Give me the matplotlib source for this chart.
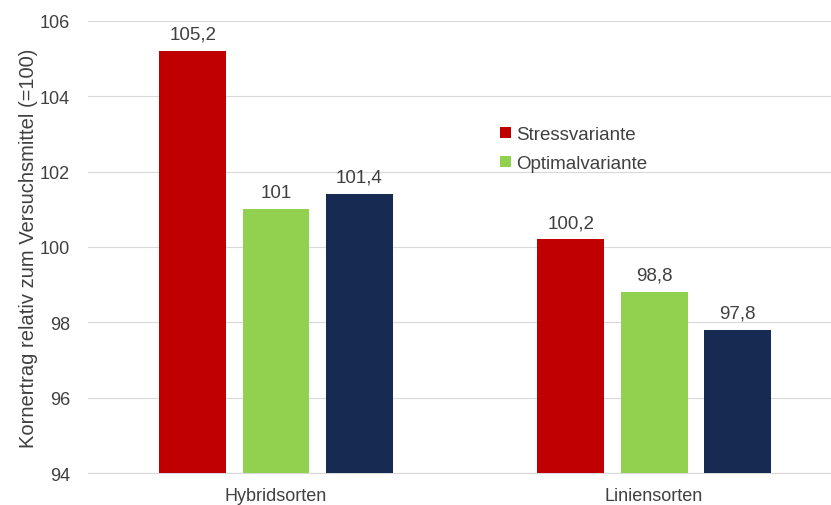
import numpy as np
import matplotlib.pyplot as plt

plt.rcParams['font.family'] = ['Liberation Sans', 'DejaVu Sans']

# data
categories = ['Hybridsorten', 'Liniensorten']
series = ['Stressvariante', 'Optimalvariante', 'Kontrolle']
stress = [105.2, 100.2]
optimal = [101.0, 98.8]
third = [101.4, 97.8]
value_labels = [['105,2', '100,2'], ['101', '98,8'], ['101,4', '97,8']]

colors = ['#C00000', '#92D050', '#172B52']
text_col = '#404040'

fig = plt.figure(figsize=(8.31, 5.06), dpi=100)
ax = fig.add_axes([0.106, 0.063, 0.894, 0.894])

x = np.arange(len(categories))
width = 0.177
step = 0.22
bars = []
for i, vals in enumerate([stress, optimal, third]):
    pos = x + (i - 1) * step
    b = ax.bar(pos, np.array(vals) - 94, width, bottom=94, color=colors[i],
               label=series[i], zorder=3)
    bars.append(b)
    for p, v, lab in zip(pos, vals, value_labels[i]):
        ax.annotate(lab, (p, v), xytext=(0, 6), textcoords='offset points',
                    ha='center', va='bottom', fontsize=13.5, color=text_col)

ax.set_ylim(94, 106)
ax.set_xlim(-0.497, 1.468)
ax.set_yticks(range(94, 107, 2))
ax.set_xticks(x)
ax.set_xticklabels(categories)
ax.tick_params(axis='both', length=0, colors=text_col, labelsize=13)
ax.tick_params(axis='x', pad=10)
ax.tick_params(axis='y', pad=13)
ax.grid(axis='y', color='#D9D9D9', linewidth=0.8, zorder=0)
for s in ['top', 'right', 'left']:
    ax.spines[s].set_visible(False)
ax.spines['bottom'].set_color('#D9D9D9')
ax.set_ylabel('Kornertrag relativ zum Versuchsmittel (=100)', fontsize=14.5,
              color=text_col, labelpad=1)

ax.legend(handles=bars[:2], loc='upper left', bbox_to_anchor=(0.532, 0.805),
          frameon=False, fontsize=13.5, handlelength=0.55, handleheight=0.55,
          handletextpad=0.3, labelspacing=0.65, labelcolor=text_col)

fig.savefig('out.png', dpi=100)
